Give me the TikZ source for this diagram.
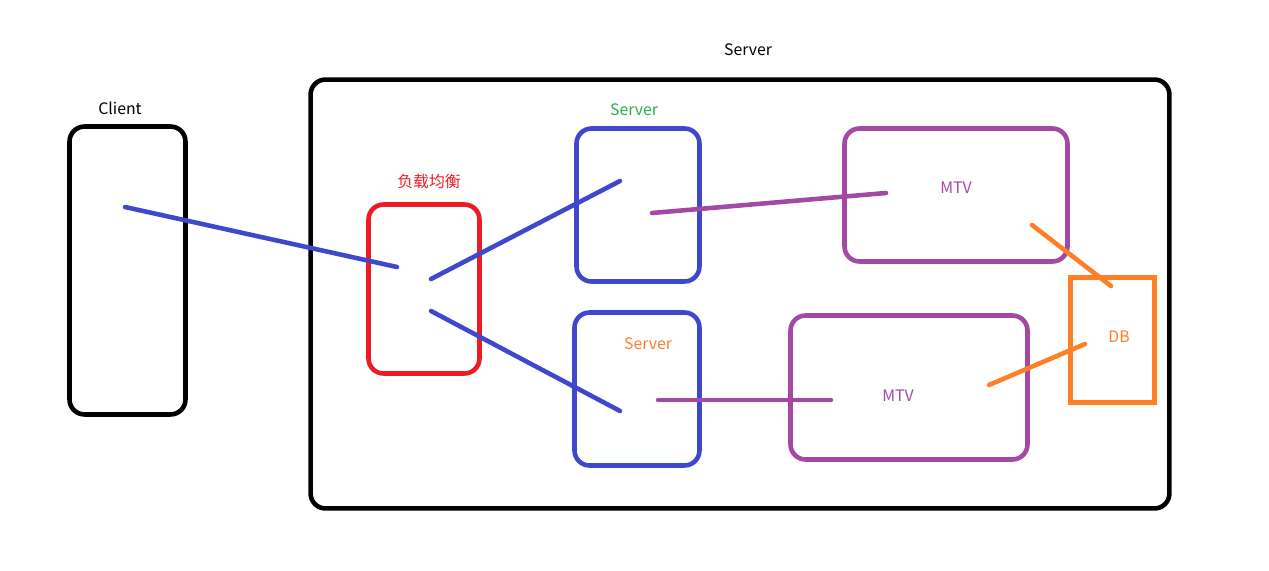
\documentclass[tikz,border=0pt]{standalone}
\usepackage{fontspec}
\setmainfont{Noto Sans CJK SC}
\definecolor{pblue}{RGB}{63,72,204}
\definecolor{pred}{RGB}{237,28,36}
\definecolor{ppurple}{RGB}{163,73,164}
\definecolor{porange}{RGB}{255,127,39}
\definecolor{pgreen}{RGB}{34,177,76}
\tikzset{
  box/.style={draw, line width=2.6pt, rounded corners=0.3cm, inner sep=0pt},
  lbl/.style={font=\fontsize{9}{10}\selectfont, inner sep=0pt},
  wire/.style={line width=2.6pt, line cap=round},
}
\begin{document}
\begin{tikzpicture}[x=0.02cm, y=-0.02cm]
        \useasboundingbox (0,0) rectangle (1269,571);

        % boxes
        \node [box, minimum width=2.32cm, minimum height=5.76cm] (client) at (127.5,270.5) {};
        \node [box, minimum width=17.18cm, minimum height=8.58cm] (host) at (740,294) {};
        \node [box, pred, minimum width=2.22cm, minimum height=3.38cm] (lb) at (424,289) {};
        \node [box, pblue, minimum width=2.46cm, minimum height=3.06cm] (srvA) at (638,205) {};
        \node [box, pblue, minimum width=2.50cm, minimum height=3.06cm] (srvB) at (637,389) {};
        \node [box, ppurple, minimum width=4.46cm, minimum height=2.66cm] (mtvA) at (956,195) {};
        \node [box, ppurple, minimum width=4.74cm, minimum height=2.88cm] (mtvB) at (909,387.5) {};
        \node [box, porange, rounded corners=0pt, minimum width=1.68cm, minimum height=2.50cm] (db) at (1112.5,340) {};

        % labels
        \node [lbl] (clientLbl) at (120,108) {Client};
        \node [lbl] (hostLbl) at (748,50) {Server};
        \node [lbl, pred] (lbLbl) at (429,181) {负载均衡};
        \node [lbl, pgreen] (srvALbl) at (634,110) {Server};
        \node [lbl, porange] (srvBLbl) at (648,344) {Server};
        \node [lbl, ppurple] (mtvALbl) at (956,188) {MTV};
        \node [lbl, ppurple] (mtvBLbl) at (898,396) {MTV};
        \node [lbl, porange] (dbLbl) at (1119,337) {DB};

        % wire ends
        \coordinate (c1) at (125,207);
        \coordinate (l1) at (397,267);
        \coordinate (l2) at (431,279);
        \coordinate (l3) at (431,311);
        \coordinate (a1) at (620,181);
        \coordinate (a2) at (652,213);
        \coordinate (b1) at (620,411);
        \coordinate (b2) at (658,400);
        \coordinate (m1) at (886,193);
        \coordinate (m2) at (831,400);
        \coordinate (m3) at (1032,225);
        \coordinate (m4) at (989,385);
        \coordinate (d1) at (1111,286);
        \coordinate (d2) at (1085,344);

        % wires
        \draw [wire, pblue] (c1) -- (l1);
        \draw [wire, pblue] (l2) -- (a1);
        \draw [wire, pblue] (l3) -- (b1);
        \draw [wire, ppurple] (a2) -- (m1);
        \draw [wire, ppurple] (b2) -- (m2);
        \draw [wire, porange] (m3) -- (d1);
        \draw [wire, porange] (m4) -- (d2);
\end{tikzpicture}
\end{document}
